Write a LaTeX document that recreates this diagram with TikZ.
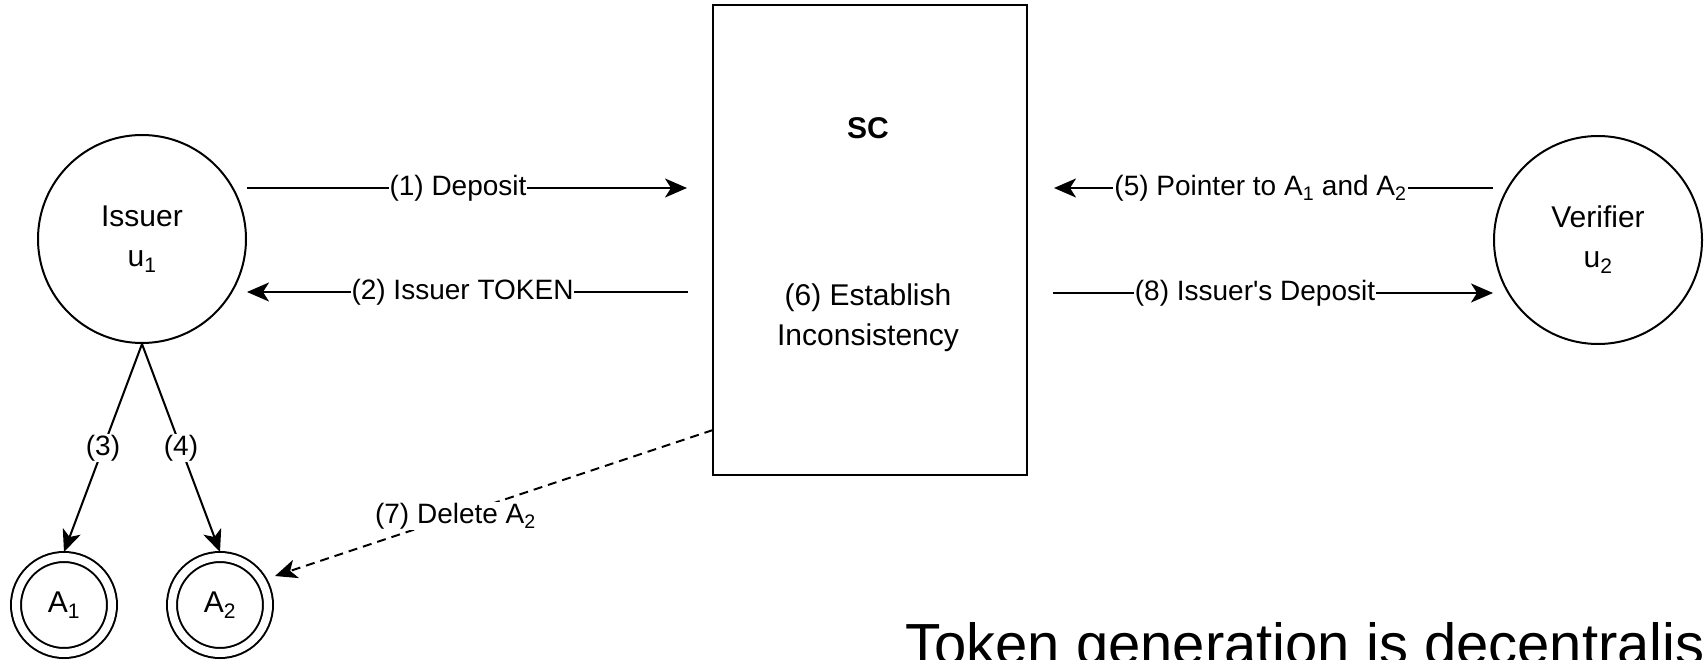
\documentclass[tikz,border=0pt]{standalone}
\usepackage{fontspec}
\setmainfont{Liberation Sans}
\usetikzlibrary{arrows.meta,calc}
\begin{document}
\begin{tikzpicture}[x=1pt,y=-1pt,
  lw/.style={line width=2pt},
  arr/.style={lw,-{Stealth[length=22pt,width=19pt,inset=6pt]}},
  dasharr/.style={arr,dash pattern=on 9pt off 6pt},
  elabel/.style={fill=white,inner sep=1pt,font=\fontsize{28}{34}\selectfont},
  party/.style={circle,draw,lw,minimum size=208pt,inner sep=0pt,align=center,font=\fontsize{30}{40}\selectfont},
  attr/.style={circle,draw,line width=2pt,double,double distance=8pt,minimum size=96pt,inner sep=0pt,outer sep=5pt,font=\fontsize{30}{36}\selectfont},
  ntext/.style={align=center,font=\fontsize{30}{40}\selectfont},
  ttext/.style={align=center,font=\bfseries\fontsize{30}{40}\selectfont},
  boxstyle/.style={draw,line width=2.5pt,minimum width=314pt,minimum height=470pt,inner sep=0pt,outer sep=0pt},
]
\useasboundingbox (0,0) rectangle (1704,660);
\clip (0,0) rectangle (1704,660);

% nodes
\node[party] (issuer) at (142,239) {Issuer\\u\textsubscript{1}};
\node[party] (verifier) at (1598,240) {Verifier\\u\textsubscript{2}};
\node[boxstyle] (sc) at (870,240) {};
\node[ttext] (sctitle) at (868,128) {SC};
\node[ntext] (scstep) at (868,318) {(6) Establish\\Inconsistency};
\node[attr] (A1) at (64,605) {A\textsubscript{1}};
\node[attr] (A2) at (220,605) {A\textsubscript{2}};
\node[anchor=base west,inner sep=0pt,font=\fontsize{58}{60}\selectfont] (caption) at (905,664) {Token generation is decentralis};

% connectors
\draw[arr] ([yshift=51pt]issuer.east) -- node[elabel,xshift=-9pt]{(1) Deposit} ([xshift=-26pt,yshift=52pt]sc.west);
\draw[arr] ([xshift=-25pt,yshift=-52pt]sc.west) -- node[elabel,xshift=-5pt]{(2) Issuer TOKEN} ([yshift=-53pt]issuer.east);
\draw[arr] (issuer.south) -- node[elabel]{(3)} (A1.north);
\draw[arr] (issuer.south) -- node[elabel]{(4)} (A2.north);
\draw[arr] ([yshift=52pt]verifier.west) -- node[elabel,xshift=-13pt]{(5) Pointer to A\textsubscript{1} and A\textsubscript{2}} ([xshift=27pt,yshift=52pt]sc.east);
\draw[arr] ([xshift=26pt,yshift=-53pt]sc.east) -- node[elabel,xshift=-18pt]{(8) Issuer\textquotesingle s Deposit} ([yshift=-53pt]verifier.west);
\draw[dasharr] ([yshift=45pt]sc.south west) -- node[elabel,pos=0.588]{(7) Delete A\textsubscript{2}} ([xshift=55pt,yshift=29pt]A2.center);
\end{tikzpicture}
\end{document}
